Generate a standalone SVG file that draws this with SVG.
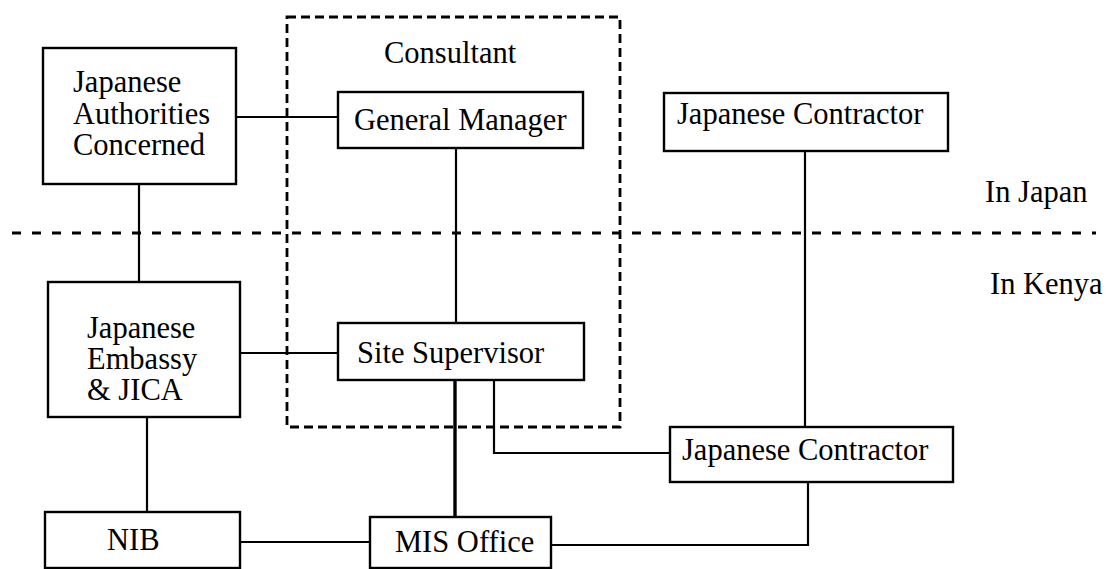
<svg xmlns="http://www.w3.org/2000/svg" width="1107" height="569" viewBox="0 0 1107 569">
  <style>
    .box { fill: #fff; stroke: #000; stroke-width: 2.4; }
    .lbl { font-family: "Liberation Serif", "Times New Roman", "DejaVu Serif", serif; font-size: 30.5px; fill: #000; }
    .wire { fill: none; stroke: #000; stroke-width: 2.2; }
    .thick { stroke-width: 3.4; }
    .dash-box { fill: none; stroke: #000; stroke-width: 2.8; stroke-dasharray: 9 5; }
    .divider { fill: none; stroke: #000; stroke-width: 3; stroke-dasharray: 9 11; }
  </style>
  <rect width="1107" height="569" fill="#fff"/>

  <!-- Japan / Kenya boundary -->
  <g id="boundary">
    <line class="divider" x1="12" y1="233" x2="1096" y2="233"/>
    <text class="lbl" x="985" y="202">In Japan</text>
    <text class="lbl" x="990" y="294">In Kenya</text>
  </g>

  <!-- Consultant grouping -->
  <g id="consultant">
    <rect class="dash-box" x="287" y="17" width="333" height="410"/>
    <text class="lbl" x="384" y="63">Consultant</text>
  </g>

  <!-- connectors -->
  <g id="connectors">
    <line class="wire" x1="236" y1="117" x2="338" y2="117"/>
    <line class="wire" x1="139" y1="184" x2="139" y2="282"/>
    <line class="wire" x1="456" y1="148" x2="456" y2="323"/>
    <line class="wire" x1="805" y1="151" x2="805" y2="427"/>
    <line class="wire" x1="240" y1="353" x2="338" y2="353"/>
    <line class="wire thick" x1="455" y1="380" x2="455" y2="517"/>
    <polyline class="wire" points="494,380 494,453 670,453"/>
    <line class="wire" x1="147" y1="417" x2="147" y2="512"/>
    <line class="wire" x1="240" y1="542" x2="370" y2="542"/>
    <polyline class="wire" points="808,482 808,545 551,545"/>
  </g>

  <g id="authorities">
    <rect class="box" x="43" y="48" width="193" height="136"/>
    <text class="lbl" x="73" y="92">Japanese</text>
    <text class="lbl" x="73" y="124">Authorities</text>
    <text class="lbl" x="73" y="155">Concerned</text>
  </g>

  <g id="general-manager">
    <rect class="box" x="338" y="92" width="245" height="56"/>
    <text class="lbl" x="354" y="130">General Manager</text>
  </g>

  <g id="contractor-japan">
    <rect class="box" x="664" y="93" width="284" height="58"/>
    <text class="lbl" x="677" y="124">Japanese Contractor</text>
  </g>

  <g id="embassy">
    <rect class="box" x="48" y="282" width="192" height="135"/>
    <text class="lbl" x="87" y="338">Japanese</text>
    <text class="lbl" x="87" y="369">Embassy</text>
    <text class="lbl" x="87" y="400">&amp; JICA</text>
  </g>

  <g id="site-supervisor">
    <rect class="box" x="338" y="323" width="246" height="57"/>
    <text class="lbl" x="357" y="363">Site Supervisor</text>
  </g>

  <g id="contractor-kenya">
    <rect class="box" x="670" y="427" width="283" height="55"/>
    <text class="lbl" x="682" y="460">Japanese Contractor</text>
  </g>

  <g id="nib">
    <rect class="box" x="45" y="512" width="195" height="56"/>
    <text class="lbl" x="107" y="550">NIB</text>
  </g>

  <g id="mis-office">
    <rect class="box" x="370" y="517" width="181" height="51"/>
    <text class="lbl" x="395" y="552">MIS Office</text>
  </g>
</svg>
